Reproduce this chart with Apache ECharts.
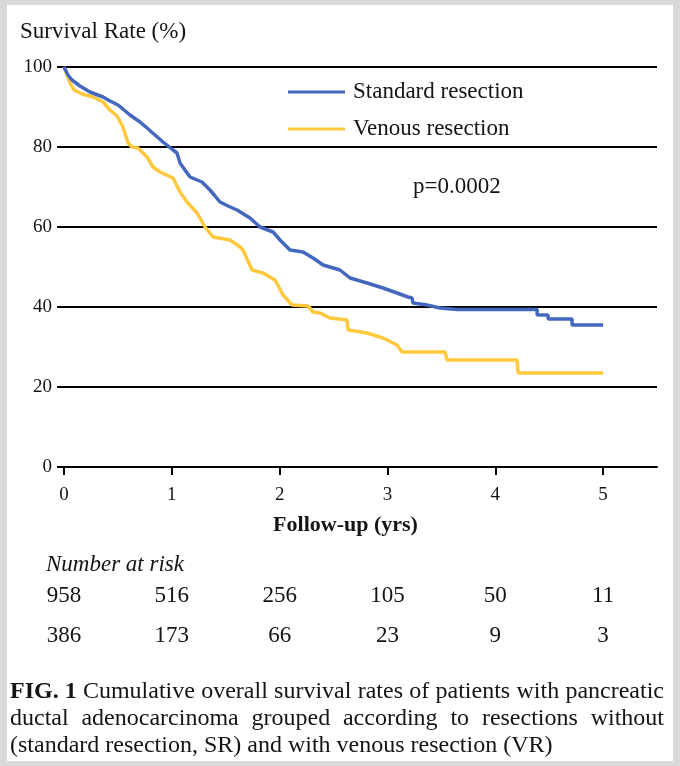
<!DOCTYPE html>
<html><head><meta charset="utf-8">
<script src="https://cdn.jsdelivr.net/npm/echarts@6/dist/echarts.min.js"></script>
<style>
html,body{margin:0;padding:0;background:#d9d9d9;width:680px;height:766px;overflow:hidden}
#panel{position:absolute;left:7px;top:5px;width:666px;height:756px;background:#fff}
#c{position:absolute;left:0;top:0;width:680px;height:766px}
</style></head>
<body><div id="panel"></div><div id="c"></div>
<script>
// ---- data ----
const xTicks = [0, 1, 2, 3, 4, 5];
const yTicks = [0, 20, 40, 60, 80, 100];
const seriesNames = ['Standard resection', 'Venous resection'];

const srTime = [0, 0.037, 0.074, 0.148, 0.241, 0.362, 0.427, 0.501, 0.557, 0.612, 0.705, 0.77, 0.844, 0.918, 1.011, 1.048, 1.076, 1.122, 1.169, 1.28, 1.354, 1.401, 1.447, 1.521, 1.605, 1.725, 1.818, 1.939, 2.004, 2.096, 2.217, 2.31, 2.403, 2.56, 2.653, 2.811, 2.959, 3.089, 3.191, 3.228, 3.237, 3.367, 3.488, 3.646, 4.388, 4.388, 4.49, 4.49, 4.712, 4.712, 5.0];
const srSurv = [100, 98, 96.75, 95.25, 93.75, 92.5, 91.5, 90.5, 89.25, 88, 86.25, 84.75, 83, 81.25, 79.25, 78.5, 76, 74.25, 72.5, 71.25, 69.25, 67.75, 66.25, 65.25, 64.25, 62.25, 60, 58.75, 56.75, 54.25, 53.75, 52.25, 50.5, 49.25, 47.25, 46, 44.75, 43.5, 42.5, 42.25, 41, 40.5, 39.75, 39.4, 39.4, 38, 38, 37, 37, 35.5, 35.5];

const vrTime = [0, 0.028, 0.056, 0.093, 0.167, 0.269, 0.362, 0.427, 0.492, 0.547, 0.594, 0.631, 0.686, 0.77, 0.826, 0.891, 1.011, 1.076, 1.141, 1.234, 1.308, 1.382, 1.54, 1.633, 1.66, 1.744, 1.846, 1.957, 2.032, 2.115, 2.263, 2.31, 2.375, 2.468, 2.625, 2.635, 2.811, 2.959, 3.089, 3.135, 3.534, 3.553, 4.202, 4.212, 5.0];
const vrSurv = [100, 98, 96, 94.25, 93.25, 92.5, 91.25, 89.25, 87.75, 85, 81, 80, 79.75, 77.5, 75, 73.75, 72.25, 68.75, 66.25, 63.5, 60, 57.5, 56.75, 55, 54.25, 49.25, 48.5, 46.75, 43, 40.5, 40.25, 38.75, 38.5, 37.25, 36.75, 34.25, 33.5, 32.25, 30.5, 28.75, 28.75, 26.75, 26.75, 23.5, 23.5];

const riskLabel = 'Number at risk';
const riskSR = [958, 516, 256, 105, 50, 11];
const riskVR = [386, 173, 66, 23, 9, 3];

const titleText = 'Survival Rate (%)';
const xName = 'Follow-up (yrs)';
const pText = 'p=0.0002';
const capBold = 'FIG. 1';
const capLine1 = 'Cumulative overall survival rates of patients with pancreatic';
const capLine2 = 'ductal adenocarcinoma grouped according to resections without';
const capLine3 = '(standard resection, SR) and with venous resection (VR)';

// ---- chart ----
const FF = '"Liberation Serif", "Times New Roman", serif';
const TXT = '#141414';
const zip = (a, b) => a.map((v, i) => [v, b[i]]);

const chart = echarts.init(document.getElementById('c'), null, {renderer: 'canvas'});
chart.setOption({
  backgroundColor: 'transparent',
  animation: false,
  title: {
    text: titleText, left: 20, top: 20, padding: 0,
    textStyle: {fontFamily: FF, fontSize: 23, fontWeight: 'normal', color: TXT, lineHeight: 24}
  },
  legend: {
    data: seriesNames, orient: 'vertical', left: 288, top: 78.5, padding: 0,
    icon: 'rect', itemWidth: 57, itemHeight: 3, itemGap: 10,
    textStyle: {fontFamily: FF, fontSize: 23, color: TXT, lineHeight: 24, padding: [3, 0, 0, 3]}
  },
  grid: {left: 64, right: 23, top: 67, bottom: 299, containLabel: false},
  xAxis: {
    type: 'value', min: 0, max: 5.5, interval: 1,
    axisLine: {show: true, lineStyle: {color: '#000', width: 2}},
    axisTick: {show: true, customValues: xTicks, length: 8, lineStyle: {color: '#000', width: 2}},
    axisLabel: {customValues: xTicks, margin: 19, fontFamily: FF, fontSize: 19, color: TXT},
    splitLine: {show: false},
    name: xName, nameLocation: 'middle', nameGap: 47,
    nameTextStyle: {fontFamily: FF, fontSize: 22, fontWeight: 'bold', color: TXT, padding: [0, 30, 0, 0]}
  },
  yAxis: {
    type: 'value', min: yTicks[0], max: yTicks[yTicks.length - 1], interval: 20,
    axisLine: {show: false},
    axisTick: {show: true, length: 7, lineStyle: {color: '#000', width: 2}},
    axisLabel: {margin: 12, fontFamily: FF, fontSize: 19, color: TXT},
    splitLine: {show: true, lineStyle: {color: '#000', width: 2}}
  },
  series: [
    {name: seriesNames[1], type: 'line', data: zip(vrTime, vrSurv), symbol: 'none', showSymbol: false,
     color: '#FFC83D', lineStyle: {width: 3.5, color: '#FFC83D'}, z: 3},
    {name: seriesNames[0], type: 'line', data: zip(srTime, srSurv), symbol: 'none', showSymbol: false,
     color: '#4468BE', lineStyle: {width: 3.5, color: '#4468BE'}, z: 4}
  ]
});

// ---- texts placed after layout ----
const ctx = document.createElement('canvas').getContext('2d');
function measure(t, font) { ctx.font = font; return ctx.measureText(t).width; }

const g = [];
g.push({type: 'text', x: 413, y: 187, style: {text: pText, font: '23px ' + FF, fill: TXT, verticalAlign: 'middle'}});
g.push({type: 'text', x: 46, y: 565, style: {text: riskLabel, font: 'italic 23px ' + FF, fill: TXT, verticalAlign: 'middle'}});
xTicks.forEach((t, i) => {
  const px = chart.convertToPixel({xAxisIndex: 0}, t);
  g.push({type: 'text', x: px, y: 596, style: {text: String(riskSR[i]), font: '23px ' + FF, fill: TXT, align: 'center', verticalAlign: 'middle'}});
  g.push({type: 'text', x: px, y: 636, style: {text: String(riskVR[i]), font: '23px ' + FF, fill: TXT, align: 'center', verticalAlign: 'middle'}});
});

// justified caption
const CAPF = '24px ' + FF, CAPB = 'bold 24px ' + FF;
const capL = 10, capR = 664;
function justify(tokens, y) {
  const widths = tokens.map(tk => measure(tk.t, tk.b ? CAPB : CAPF));
  const total = widths.reduce((a, b) => a + b, 0);
  const gap = (capR - capL - total) / (tokens.length - 1);
  let x = capL;
  tokens.forEach((tk, i) => {
    g.push({type: 'text', x: x, y: y, style: {text: tk.t, font: tk.b ? CAPB : CAPF, fill: TXT, verticalAlign: 'middle'}});
    x += widths[i] + gap;
  });
}
justify([{t: capBold, b: true}].concat(capLine1.split(' ').map(t => ({t}))), 692);
justify(capLine2.split(' ').map(t => ({t})), 719);
g.push({type: 'text', x: capL, y: 746, style: {text: capLine3, font: CAPF, fill: TXT, verticalAlign: 'middle'}});

chart.setOption({graphic: {elements: g}});
</script>
</body></html>
